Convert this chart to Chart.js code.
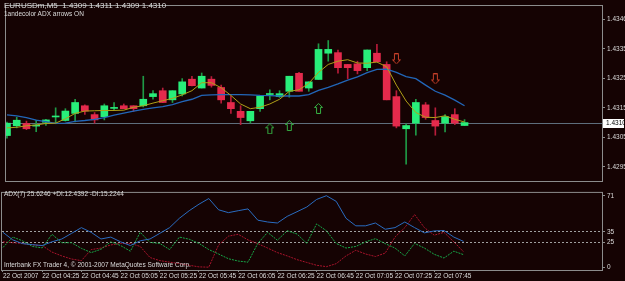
<!DOCTYPE html>
<html>
<head>
<meta charset="UTF-8">
<script src="https://cdn.jsdelivr.net/npm/chart.js"></script>
<style>
  body { margin: 0; background: #150303; width: 625px; height: 281px; overflow: hidden; position: relative; font-family: 'Liberation Sans', Arial, sans-serif; }
  canvas { position: absolute; left: 0; }
  #mainChart { top: 0; }
  #adxChart { top: 187px; }
  .lbl { position: absolute; color: #dcdcdc; white-space: pre; line-height: 1; }
</style>
</head>
<body>
<canvas id="mainChart" width="625" height="187"></canvas>
<canvas id="adxChart" width="625" height="94"></canvas>
<div class="lbl" style="left:4px;top:2px;font-size:8px;">EURUSDm,M5  1.4309 1.4311 1.4309 1.4310</div>
<div class="lbl" style="left:4px;top:11px;font-size:6.5px;">1andecolor ADX arrows ON</div>
<div class="lbl" style="left:4px;top:191px;font-size:6.5px;">ADX(7) 25.6246 +DI:12.4392 -DI:15.2244</div>
<div class="lbl" style="left:4px;top:262px;font-size:6.5px;">Interbank FX Trader 4, © 2001-2007 MetaQuotes Software Corp.</div>
<script>
// EURUSD M5 bars, 04:05 .. 07:55
const opens = [
  1.43056,1.43089,1.43097,1.43088,1.43101,1.43119,1.43107,1.43131,1.43157,1.43127,1.43120,1.43148,
  1.43157,1.43157,1.43157,1.43188,1.43208,1.43177,1.43197,1.43247,1.43217,1.43247,1.43219,1.43168,
  1.43138,1.43106,1.43147,1.43195,1.43188,1.43206,1.43267,1.43217,1.43246,1.43335,1.43337,1.43297,
  1.43299,1.43286,1.43335,1.43297,1.43188,1.43079,1.43098,1.43160,1.43107,1.43098,1.43127,1.43090];
const highs = [
  1.43102,1.43118,1.43105,1.43108,1.43111,1.43150,1.43147,1.43179,1.43160,1.43134,1.43163,1.43168,
  1.43163,1.43157,1.43257,1.43208,1.43217,1.43208,1.43249,1.43257,1.43268,1.43256,1.43227,1.43190,
  1.43157,1.43138,1.43190,1.43211,1.43208,1.43257,1.43270,1.43238,1.43367,1.43378,1.43346,1.43297,
  1.43308,1.43346,1.43365,1.43306,1.43208,1.43096,1.43179,1.43168,1.43150,1.43127,1.43147,1.43110];
const lows = [
  1.43047,1.43082,1.43076,1.43069,1.43090,1.43096,1.43105,1.43102,1.43128,1.43098,1.43109,1.43141,
  1.43147,1.43138,1.43153,1.43179,1.43168,1.43168,1.43190,1.43224,1.43217,1.43220,1.43166,1.43131,
  1.43093,1.43098,1.43138,1.43177,1.43185,1.43186,1.43206,1.43206,1.43246,1.43308,1.43267,1.43249,
  1.43265,1.43276,1.43306,1.43177,1.43082,1.42959,1.43057,1.43111,1.43057,1.43068,1.43093,1.43090];
const closes = [
  1.43098,1.43108,1.43079,1.43090,1.43109,1.43121,1.43139,1.43168,1.43139,1.43109,1.43157,1.43150,
  1.43147,1.43147,1.43179,1.43198,1.43168,1.43208,1.43238,1.43225,1.43257,1.43226,1.43177,1.43147,
  1.43117,1.43138,1.43190,1.43196,1.43198,1.43257,1.43206,1.43238,1.43348,1.43348,1.43286,1.43286,
  1.43276,1.43346,1.43306,1.43177,1.43088,1.43090,1.43168,1.43117,1.43088,1.43120,1.43098,1.43100];

const maFast = [
  1.43082,1.43084,1.43089,1.43092,1.43097,1.43098,1.43113,1.43131,1.43139,1.43140,1.43141,1.43141,
  1.43142,1.43152,1.43157,1.43166,1.43174,1.43182,1.43194,1.43208,1.43235,1.43235,1.43218,1.43192,
  1.43163,1.43147,1.43152,1.43163,1.43179,1.43206,1.43211,1.43233,1.43270,1.43297,1.43308,1.43313,
  1.43302,1.43301,1.43305,1.43289,1.43227,1.43173,1.43134,1.43118,1.43117,1.43123,1.43111,1.43102];
const maSlow = [
  1.43126,1.43123,1.43117,1.43108,1.43103,1.43097,1.43098,1.43104,1.43107,1.43111,1.43117,1.43125,
  1.43132,1.43139,1.43145,1.43150,1.43154,1.43161,1.43171,1.43179,1.43192,1.43194,1.43195,1.43195,
  1.43195,1.43194,1.43192,1.43191,1.43190,1.43190,1.43190,1.43195,1.43209,1.43219,1.43231,1.43244,
  1.43255,1.43269,1.43280,1.43281,1.43270,1.43256,1.43249,1.43227,1.43206,1.43193,1.43176,1.43157];

const upArrowIdx = [27, 29, 32];
const upArrowPrice = [1.43079, 1.43090, 1.43148];
const downArrowIdx = [40, 44];
const downArrowPrice = [1.43316, 1.43248];

const adx = [
  34.6,27.1,23.4,22.4,21.5,25.2,28.0,33.6,39.3,34.6,28.0,29.9,
  25.2,21.5,26.2,28.0,33.6,39.3,48.6,56.1,62.6,68.2,57.0,54.2,
  56.1,57.9,46.7,44.9,43.9,50.5,55.1,59.8,67.3,71.0,65.4,48.6,
  41.1,41.1,43.9,37.7,39.3,44.9,39.3,34.1,36.0,36.4,29.9,25.6];
const plusDI = [
  19.6,29.9,26.2,20.6,19.2,32.7,24.3,24.3,18.7,14.5,17.8,25.2,
  21.5,15.9,34.6,24.6,23.6,17.5,29.9,27.8,23.6,17.5,13.1,8.4,
  6.1,5.0,23.6,34.6,26.8,36.2,33.0,23.6,43.0,36.2,23.6,19.0,
  20.6,25.2,28.3,23.4,19.0,11.2,23.6,19.0,12.8,9.1,15.9,12.4];
const minusDI = [
  25.2,24.3,23.6,22.1,21.5,15.0,11.2,8.1,6.5,17.5,19.0,22.1,
  23.6,23.6,20.6,9.6,6.5,5.0,3.5,1.9,0.3,0.0,22.1,30.8,
  32.7,27.1,23.4,19.0,14.5,11.2,7.5,4.7,1.9,0.5,3.5,11.2,
  16.8,13.1,10.6,14.0,29.9,39.3,52.3,39.3,31.8,34.6,25.2,15.2];

const priceTicks = [1.4295, 1.4305, 1.4315, 1.4325, 1.4335, 1.4345];
const priceTickLabels = ['1.4295', '1.4305', '1.4315', '1.4325', '1.4335', '1.4346'];
const adxTicks = [0, 25, 35, 71];
const timeTickIdx = [0, 4, 8, 12, 16, 20, 24, 28, 32, 36, 40, 44];
const timeTickLabels = ['22 Oct 2007', '22 Oct 04:25', '22 Oct 04:45', '22 Oct 05:05', '22 Oct 05:25', '22 Oct 05:45',
  '22 Oct 06:05', '22 Oct 06:25', '22 Oct 06:45', '22 Oct 07:05', '22 Oct 07:25', '22 Oct 07:45'];

const X_MIN = -0.1, X_MAX = 61.12;
const GRAY = '#8c8c8c';
const TXT = '#dcdcdc';
const FONT = { family: "'Liberation Sans', Arial, sans-serif", size: 6.5 };
const lastClose = closes[closes.length - 1];

function arrowImg(color, up) {
  const c = document.createElement('canvas');
  c.width = 9; c.height = 11;
  const g = c.getContext('2d');
  g.strokeStyle = color;
  g.lineWidth = 1;
  g.beginPath();
  if (up) {
    g.moveTo(4.5, 0.5); g.lineTo(8.5, 4.5); g.lineTo(6.5, 4.5); g.lineTo(6.5, 10.5);
    g.lineTo(2.5, 10.5); g.lineTo(2.5, 4.5); g.lineTo(0.5, 4.5);
  } else {
    g.moveTo(4.5, 10.5); g.lineTo(8.5, 6.5); g.lineTo(6.5, 6.5); g.lineTo(6.5, 0.5);
    g.lineTo(2.5, 0.5); g.lineTo(2.5, 6.5); g.lineTo(0.5, 6.5);
  }
  g.closePath();
  g.stroke();
  return c;
}

const frame = {
  id: 'frame',
  beforeDatasetsDraw(chart) {
    const { ctx, chartArea: a } = chart;
    ctx.save();
    ctx.strokeStyle = GRAY;
    ctx.lineWidth = 1;
    ctx.strokeRect(a.left - 0.5, a.top - 0.5, a.right - a.left + 1, a.bottom - a.top + 1);
    ctx.restore();
  }
};

const bidLine = {
  id: 'bidLine',
  beforeDatasetsDraw(chart) {
    const { ctx, chartArea: a, scales } = chart;
    const y = Math.round(scales.y.getPixelForValue(lastClose)) + 0.5;
    ctx.save();
    ctx.strokeStyle = '#5e6e7c';
    ctx.lineWidth = 1;
    ctx.beginPath();
    ctx.moveTo(a.left, y);
    ctx.lineTo(a.right, y);
    ctx.stroke();
    ctx.restore();
  },
  afterDraw(chart) {
    const { ctx, chartArea: a, scales } = chart;
    const y = Math.round(scales.y.getPixelForValue(lastClose));
    ctx.save();
    ctx.fillStyle = '#ffffff';
    ctx.fillRect(a.right + 1, y - 4, 21, 9);
    ctx.fillStyle = '#000000';
    ctx.font = "6.5px 'Liberation Sans', Arial, sans-serif";
    ctx.textBaseline = 'middle';
    ctx.fillText(lastClose.toFixed(4), a.right + 4, y + 0.5);
    ctx.restore();
  }
};

const idx = closes.map((_, i) => i);
const isBull = i => closes[i] >= opens[i];

new Chart(document.getElementById('mainChart'), {
  type: 'bar',
  data: {
    datasets: [
      {
        type: 'line', order: 0, showLine: false,
        data: upArrowIdx.map((x, k) => ({ x: x, y: upArrowPrice[k] })),
        pointStyle: arrowImg('#36b043', true), pointRadius: 5
      },
      {
        type: 'line', order: 0, showLine: false,
        data: downArrowIdx.map((x, k) => ({ x: x, y: downArrowPrice[k] })),
        pointStyle: arrowImg('#c8402a', false), pointRadius: 5
      },
      {
        type: 'line', order: 1,
        data: idx.map(i => ({ x: i, y: maFast[i] })),
        borderColor: '#b0a018', borderWidth: 1, pointRadius: 0, tension: 0
      },
      {
        type: 'line', order: 1,
        data: idx.map(i => ({ x: i, y: maSlow[i] })),
        borderColor: '#2266b8', borderWidth: 1.3, pointRadius: 0, tension: 0
      },
      {
        order: 2, grouped: false, barThickness: 7, minBarLength: 1,
        data: idx.map(i => ({ x: i, y: [opens[i], closes[i]] })),
        backgroundColor: idx.map(i => isBull(i) ? '#28ee7a' : '#e42a4c')
      },
      {
        order: 3, grouped: false, barThickness: 1,
        data: idx.map(i => ({ x: i, y: [lows[i], highs[i]] })),
        backgroundColor: idx.map(i => isBull(i) ? '#1f9a46' : '#b81c3a')
      }
    ]
  },
  options: {
    responsive: false, animation: false, devicePixelRatio: 1, events: [],
    layout: { padding: { left: 2, top: 2, right: 0, bottom: 1 } },
    plugins: { legend: { display: false }, tooltip: { enabled: false } },
    scales: {
      x: { type: 'linear', min: X_MIN, max: X_MAX, offset: false, display: false },
      y: {
        type: 'linear', position: 'right', min: 1.42902, max: 1.43495,
        afterBuildTicks: s => { s.ticks = priceTicks.map(v => ({ value: v })); },
        afterFit: s => { s.width = 23; },
        ticks: { color: TXT, font: FONT, padding: 2, autoSkip: false,
          callback: (v, i) => priceTickLabels[i] },
        grid: { drawOnChartArea: false, tickLength: 3, color: GRAY },
        border: { color: GRAY }
      }
    }
  },
  plugins: [frame, bidLine]
});

new Chart(document.getElementById('adxChart'), {
  type: 'line',
  data: {
    datasets: [
      { data: idx.map(i => ({ x: i, y: adx[i] })), borderColor: '#2a6cc0', borderWidth: 1, pointRadius: 0 },
      { data: idx.map(i => ({ x: i, y: plusDI[i] })), borderColor: '#17a848', borderWidth: 1, borderDash: [2, 1], pointRadius: 0 },
      { data: idx.map(i => ({ x: i, y: minusDI[i] })), borderColor: '#a8142c', borderWidth: 1, borderDash: [2, 1], pointRadius: 0 }
    ]
  },
  options: {
    responsive: false, animation: false, devicePixelRatio: 1, events: [],
    layout: { padding: { left: 2, top: 1, right: 0, bottom: 0 } },
    plugins: { legend: { display: false }, tooltip: { enabled: false } },
    scales: {
      x: {
        type: 'linear', min: X_MIN, max: X_MAX, offset: false,
        afterBuildTicks: s => { s.ticks = timeTickIdx.map(v => ({ value: v })); },
        afterFit: s => { s.height = 11; },
        ticks: { color: TXT, font: FONT, padding: 0, align: 'start', maxRotation: 0, autoSkip: false,
          callback: (v, i) => timeTickLabels[i] },
        grid: { drawOnChartArea: false, tickLength: 2, color: GRAY },
        border: { color: GRAY }
      },
      y: {
        type: 'linear', position: 'right', min: -2.8, max: 73.8,
        afterBuildTicks: s => { s.ticks = adxTicks.map(v => ({ value: v })); },
        afterFit: s => { s.width = 23; },
        ticks: { color: TXT, font: FONT, padding: 2, autoSkip: false },
        grid: {
          drawTicks: true, tickLength: 3,
          color: c => (c.tick && (c.tick.value === 25 || c.tick.value === 35)) ? '#a0a0a0' : 'rgba(0,0,0,0)',
          tickColor: GRAY
        },
        border: { color: GRAY, dash: [2, 2] }
      }
    }
  },
  plugins: [frame]
});
</script>
</body>
</html>
